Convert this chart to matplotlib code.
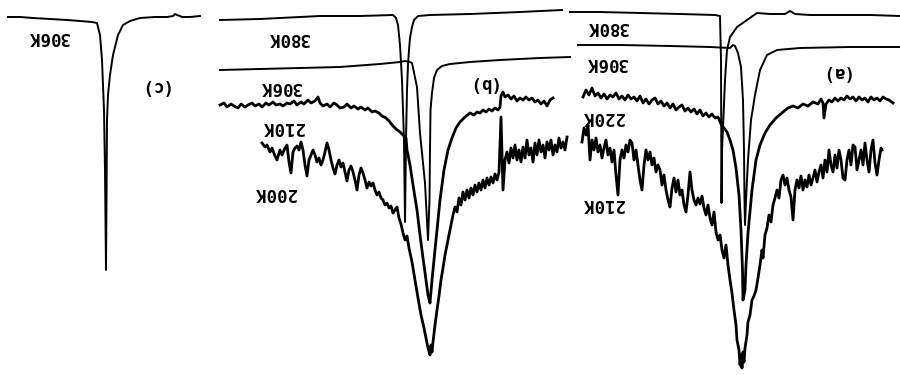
# -*- coding: utf-8 -*-
# Mossbauer-like spectra, scanned figure printed upside down
import matplotlib
matplotlib.use('Agg')
import matplotlib.pyplot as plt

# panel (c)
c306_x = [8, 20, 33, 50, 67, 80, 92, 97, 100, 102, 104, 105, 106, 106.5, 107, 108, 110, 113, 118, 123, 130, 140, 155, 167, 173, 175, 177, 180, 182, 190, 200]
c306_y = [17, 17, 18, 19, 20, 21, 22, 23, 35, 60, 110, 170, 270, 200, 120, 95, 75, 55, 35, 25, 21, 18, 17, 17, 16, 14, 15, 16, 17, 17, 16]

# panel (b)
b380_x = [220, 260, 320, 360, 393, 396, 398, 400, 402, 404, 405, 406, 407, 408, 409, 410, 412, 414, 418, 430, 470, 520, 562]
b380_y = [20, 19, 16, 16, 15, 18, 25, 45, 80, 140, 222, 140, 90, 65, 50, 38, 27, 20, 16, 15, 14, 12, 10]

b306_x = [220, 260, 300, 340, 380, 400, 405, 410, 412, 417, 420, 425, 428, 429.5, 430, 430.5, 432, 434, 437, 442, 450, 470, 500, 540, 570]
b306_y = [70, 69, 68, 67, 64, 62, 61, 62, 63, 87, 133, 183, 240, 200, 150, 110, 93, 78, 70, 66, 64, 62, 60, 58, 57]

b210_x = [220, 224, 227, 231, 234, 238, 241, 245, 248, 252, 255, 259, 262, 266, 269, 273, 276, 280, 283, 287,
          290, 294, 297, 301, 304, 308, 311, 315, 318, 320, 323, 327, 330, 334, 337, 340, 344, 347, 351, 354,
          358, 361, 365, 368, 372, 375, 379, 382, 386, 389, 393, 396, 400, 403, 406,
          407, 410, 413, 417, 420, 423, 426, 428, 430, 432, 435, 440, 444, 448, 452, 456, 460, 465, 470,
          474, 477, 480, 483, 486, 489, 492, 495, 498, 500, 501, 503, 505, 508, 511, 514, 517, 520, 523,
          526, 529, 532, 535, 538, 541, 544, 547, 550, 553]
b210_y = [105, 103, 107, 104, 106, 108, 104, 107, 105, 103, 106, 104, 107, 103, 105, 102, 105, 104, 106, 103,
          104, 101, 105, 102, 104, 100, 103, 101, 97, 103, 106, 104, 107, 103, 105, 108, 107, 104, 108, 106,
          109, 107, 110, 108, 112, 111, 113, 116, 118, 121, 126, 129, 132, 135, 138,
          150, 165, 185, 210, 235, 258, 280, 295, 303, 280, 250, 200, 170, 150, 138, 128, 122, 117, 113,
          115, 112, 113, 110, 112, 109, 111, 108, 110, 107, 96, 92, 97, 95, 99, 96, 101, 98, 100,
          97, 100, 98, 102, 100, 104, 101, 106, 100, 98]

b200_x = [262, 265, 267, 270, 272, 275, 277, 280, 282, 285, 287, 289, 291, 293, 295, 297, 299, 301, 303, 305,
          307, 309, 311, 313, 315, 317, 319, 321, 323, 325, 327, 329, 331, 333, 335, 337, 339, 341, 343, 345,
          347, 349, 351, 353, 355, 357, 359, 361, 363, 365, 367, 369, 371, 373, 375, 377, 379, 381, 383, 385,
          387, 389, 391, 393, 395, 397, 399, 401, 403, 405, 407, 409,
          412, 415, 418, 421, 424, 426, 428, 430, 431, 432, 433, 435, 437, 439, 441, 443, 445, 447, 449, 451,
          453, 455, 457, 459, 461, 463, 465, 467, 469, 471, 473, 475, 477, 479, 481, 483, 485, 487, 489, 491,
          493, 495, 497, 499, 501, 503, 505, 507, 509, 511, 513, 515, 517, 519, 521, 523, 525, 527, 529, 531,
          533, 535, 537, 539, 541, 543, 545, 547, 549, 551, 553, 555, 557, 559, 561, 563, 565, 567]
b200_y = [143, 147, 145, 152, 148, 156, 160, 150, 155, 148, 145, 162, 173, 152, 148, 146, 150, 142, 150, 165,
          176, 160, 155, 150, 155, 162, 158, 165, 160, 152, 143, 150, 160, 168, 174, 165, 160, 167, 163, 172,
          181, 170, 166, 172, 180, 190, 175, 168, 173, 180, 188, 182, 186, 183, 190, 195, 192, 198, 200, 205,
          203, 208, 206, 213, 210, 207, 218, 224, 233, 240, 236, 248,
          262, 280, 298, 315, 328, 338, 348, 355, 345, 352, 342, 325, 310, 296, 280, 268, 255, 245, 235, 225,
          215, 207, 212, 198, 205, 192, 200, 190, 198, 188, 195, 185, 192, 183, 190, 180, 188, 178, 185, 177,
          183, 174, 180, 172, 117, 190, 160, 152, 163, 148, 158, 145, 160, 150, 162, 147, 158, 140, 155, 148,
          162, 143, 155, 140, 152, 145, 158, 142, 150, 140, 155, 145, 152, 138, 148, 142, 150, 137]

# panel (a)
a380_x = [570, 600, 640, 680, 715, 720, 721, 721.5, 722, 723, 725, 727, 730, 737, 747, 757, 770, 785, 790, 795, 810, 840, 870, 900]
a380_y = [12, 12, 13, 14, 15, 16, 60, 203, 150, 128, 80, 50, 37, 27, 20, 13, 14, 14, 11, 14, 15, 15, 15, 16]

a306_x = [578, 620, 670, 710, 730, 733, 735, 738, 741, 743, 744, 744.5, 745, 746, 748, 751, 755, 760, 767, 777, 800, 850, 900]
a306_y = [45, 45, 46, 47, 48, 45, 46, 53, 67, 100, 150, 200, 225, 200, 160, 120, 95, 70, 55, 50, 48, 47, 47]

a220_x = [583, 586, 589, 592, 595, 598, 601, 604, 607, 610, 613, 616, 619, 622, 625, 628, 631, 634, 637, 640,
          643, 646, 649, 652, 655, 658, 661, 664, 667, 670, 673, 676, 679, 682, 685, 688, 691, 694, 697, 700,
          703, 706, 709, 712, 715, 718, 721,
          724, 727, 730, 733, 736, 739, 741, 742.5, 743, 745, 746, 748, 752, 756, 760, 765, 770, 776, 783,
          788, 793, 798, 803, 808, 813, 818, 821, 823, 824, 826, 829, 832, 835, 838, 841, 844, 847, 850,
          853, 856, 859, 862, 865, 868, 871, 874, 877, 880, 883, 886, 889, 893]
a220_y = [97, 90, 95, 88, 96, 93, 98, 94, 99, 95, 97, 93, 99, 96, 100, 95, 99, 97, 101, 96,
          103, 99, 104, 100, 98, 104, 101, 106, 103, 108, 104, 110, 107, 105, 111, 108, 112, 109, 114, 110,
          116, 113, 117, 114, 118, 117, 124,
          128, 132, 140, 150, 168, 195, 230, 270, 300, 290, 265, 233, 190, 160, 145, 133, 125, 118, 112,
          108, 106, 108, 104, 106, 102, 104, 99, 103, 118, 104, 100, 102, 98, 101, 98, 100, 96, 99,
          97, 101, 97, 100, 98, 102, 97, 100, 98, 101, 97, 99, 100, 103]

a210_x = [582, 584, 586, 588, 590, 592, 594, 596, 598, 600, 602, 604, 606, 608, 610, 612, 614, 616, 618, 620,
          622, 624, 626, 628, 630, 632, 634, 636, 638, 640, 642, 644, 646, 648, 650, 652, 654, 656, 658, 660,
          662, 664, 666, 668, 670, 672, 674, 676, 678, 680, 682, 684, 686, 688, 690, 692, 694, 696, 698, 700,
          702, 704, 706, 708, 710, 712, 714, 716, 718, 720, 722, 724, 726, 728, 730, 732, 734, 736, 737, 739,
          740, 741, 742, 743, 744, 745, 747, 748, 750, 752, 754, 756, 758, 760, 762, 763, 765, 767, 769, 771,
          773, 775, 777, 779, 781, 783, 785, 787, 789, 791, 793, 795, 797, 799, 801, 803, 805, 807, 809, 811,
          813, 815, 817, 819, 821, 823, 825, 827, 829, 831, 833, 835, 837, 839, 841, 843, 845, 847, 849, 851,
          853, 855, 857, 859, 861, 863, 865, 867, 869, 871, 873, 875, 877, 879, 881, 882]
a210_y = [142, 128, 135, 125, 160, 140, 150, 138, 152, 145, 158, 148, 140, 155, 148, 162, 150, 175, 195, 160,
          150, 158, 145, 152, 140, 143, 160, 150, 165, 180, 190, 165, 150, 160, 152, 165, 158, 172, 165, 170,
          185, 175, 190, 200, 207, 188, 178, 192, 180, 195, 190, 205, 212, 195, 172, 190, 200, 205, 198, 204,
          196, 208, 215, 205, 218, 225, 212, 232, 240, 235, 250, 258, 245, 265, 280, 293, 310, 325, 340, 350,
          365, 355, 368, 352, 362, 348, 335, 322, 315, 300, 296, 290, 278, 265, 250, 258, 235, 228, 215, 222,
          205, 198, 190, 198, 180, 175, 185, 178, 190, 197, 220, 190, 180, 188, 176, 190, 180, 187, 175, 185,
          178, 170, 182, 172, 165, 178, 160, 172, 150, 165, 172, 155, 168, 150, 160, 178, 180, 160, 150, 165,
          145, 147, 170, 160, 150, 165, 143, 160, 172, 150, 140, 163, 175, 160, 148, 150]

# labels (upside down in the scan)
lab_txt = ['306K', '(c)', '380K', '306K', '(b)', '210K', '200K', '380K', '306K', '(a)', '220K', '210K']
lab_x = [48, 152, 288, 280, 480, 283, 275, 607, 606, 833, 603, 603]
lab_y = [37, 86, 38, 87, 83, 127, 193, 27, 63, 72, 117, 204]

fig = plt.figure(figsize=(9, 3.75), dpi=100)
ax = fig.add_axes([0, 0, 1, 1])
ax.set_xlim(0, 900)
ax.set_ylim(375, 0)
ax.axis('off')

smooth = [(c306_x, c306_y), (b380_x, b380_y), (b306_x, b306_y), (a380_x, a380_y), (a306_x, a306_y)]
noisy = [(b210_x, b210_y), (b200_x, b200_y), (a220_x, a220_y), (a210_x, a210_y)]

for x, y in smooth:
    ax.plot(x, y, color='black', lw=1.4, solid_joinstyle='round')
for x, y in noisy:
    ax.plot(x, y, color='black', lw=2.0, solid_joinstyle='round')

for t, x, y in zip(lab_txt, lab_x, lab_y):
    ax.text(x, y, t, rotation=180, ha='center', va='center',
            family='DejaVu Sans Mono', weight='bold', fontsize=12.5)

fig.savefig('out.png', dpi=100, facecolor='white')
